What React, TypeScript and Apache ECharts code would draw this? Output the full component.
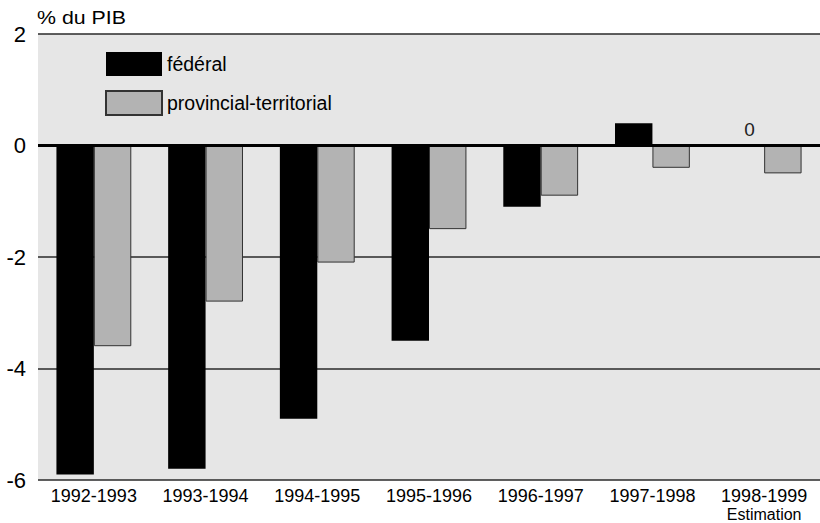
import React, { useEffect, useRef } from "react";
import * as echarts from "echarts";

// Solde budgétaire des administrations publiques, en % du PIB
const categories = [
  "1992-1993",
  "1993-1994",
  "1994-1995",
  "1995-1996",
  "1996-1997",
  "1997-1998",
  "1998-1999",
];
// Note printed under a category label
const categoryNotes = ["", "", "", "", "", "", "Estimation"];
const federal = [-5.9, -5.8, -4.9, -3.5, -1.1, 0.4, 0];
const provincial = [-3.6, -2.8, -2.1, -1.5, -0.9, -0.4, -0.5];
const seriesNames = ["fédéral", "provincial-territorial"];
const yMin = -6;
const yMax = 2;
const yStep = 2;
const unitLabel = "% du PIB";

const FONT = "'Liberation Sans', Arial, Helvetica, sans-serif";

export default function App() {
  const ref = useRef<HTMLDivElement>(null);

  useEffect(() => {
    if (!ref.current) return;
    const chart = echarts.init(ref.current, undefined, { renderer: "svg" });
    chart.setOption({
      animation: false,
      backgroundColor: "#ffffff",
      textStyle: { fontFamily: FONT, color: "#000" },
      graphic: [
        {
          type: "text",
          x: 37,
          y: 9,
          scaleX: 1.22,
          silent: true,
          style: {
            text: unitLabel,
            fontFamily: FONT,
            fontSize: 17.5,
            fill: "#000",
          },
        },
      ],
      legend: {
        orient: "vertical",
        left: 105,
        top: 52,
        padding: 0,
        itemWidth: 56,
        itemHeight: 24,
        itemGap: 14,
        icon: "rect",
        data: seriesNames,
        textStyle: { fontFamily: FONT, fontSize: 19.5, color: "#000", padding: [0, 0, 0, 0] },
      },
      grid: {
        left: 38,
        right: 0,
        top: 34,
        bottom: 43,
        show: true,
        backgroundColor: "#e6e6e6",
        borderWidth: 0,
        containLabel: false,
      },
      xAxis: {
        type: "category",
        data: categories,
        axisLine: { show: false },
        axisTick: { show: false },
        axisLabel: {
          fontFamily: FONT,
          fontSize: 18,
          color: "#000",
          margin: 5,
          lineHeight: 21,
          interval: 0,
          formatter: (value: string, index: number) =>
            categoryNotes[index] ? `${value}\n{note|${categoryNotes[index]}}` : value,
          rich: {
            note: { fontFamily: FONT, fontSize: 16, lineHeight: 17, color: "#000" },
          },
        },
      },
      yAxis: {
        type: "value",
        min: yMin,
        max: yMax,
        interval: yStep,
        axisLine: { show: false },
        axisTick: { show: false },
        axisLabel: { fontFamily: FONT, fontSize: 22, color: "#000", margin: 12 },
        splitLine: { show: true, lineStyle: { color: "#2a2a2a", width: 1.5 } },
      },
      series: [
        {
          name: seriesNames[0],
          type: "bar",
          data: federal.map((v, i) =>
            i === federal.length - 1
              ? {
                  value: v,
                  label: {
                    show: true,
                    position: "top",
                    distance: 7,
                    offset: [4, 0],
                    formatter: "{c}",
                    fontFamily: FONT,
                    fontSize: 19,
                    color: "#222",
                  },
                }
              : v
          ),
          barGap: "0%",
          barCategoryGap: "33%",
          itemStyle: { color: "#000000" },
          markLine: {
            silent: true,
            symbol: "none",
            label: { show: false },
            lineStyle: { color: "#000", width: 3, type: "solid" },
            data: [{ yAxis: 0 }],
          },
          z: 3,
        },
        {
          name: seriesNames[1],
          type: "bar",
          data: provincial,
          barGap: "0%",
          barCategoryGap: "33%",
          itemStyle: { color: "#b3b3b3", borderColor: "#333", borderWidth: 1 },
          z: 3,
        },
      ],
    });
    return () => chart.dispose();
  }, []);

  return <div ref={ref} style={{ width: 820, height: 523, position: "absolute", left: 0, top: 0 }} />;
}
